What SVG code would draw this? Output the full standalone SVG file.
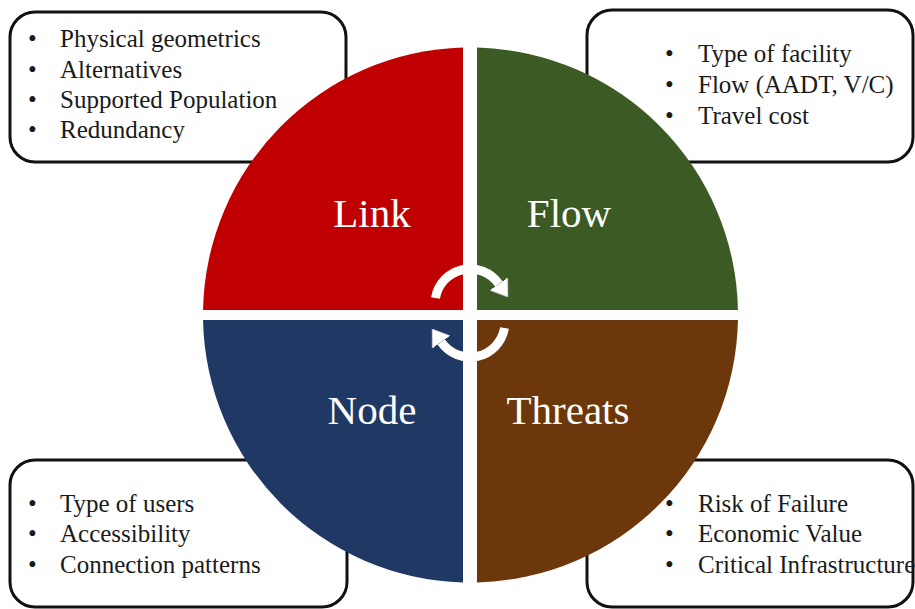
<svg xmlns="http://www.w3.org/2000/svg" width="915" height="609" viewBox="0 0 915 609">
  <style>
    .box { fill: #ffffff; stroke: #111111; stroke-width: 3; }
    .item { font-size: 25px; fill: #1a1a1a; }
    .label { font-size: 41px; fill: #ffffff; text-anchor: middle; }
    .cycle { fill: none; stroke: #ffffff; stroke-width: 9; }
  </style>
  <defs>
    <marker id="head" markerUnits="userSpaceOnUse" markerWidth="16" markerHeight="22" viewBox="0 -11 16 22" refX="0" refY="0" orient="auto">
      <path d="M0,-11 L16,0 L0,11 Z" fill="#ffffff" stroke="#c8c8c8" stroke-width="0.6"/>
    </marker>
  </defs>
  <rect width="915" height="609" fill="#ffffff"/>

  <g font-family="Liberation Serif, serif">
  <g id="box-link">
    <rect class="box" x="10" y="12" width="336" height="150" rx="25"/>
    <text class="item" x="28" y="47">•</text><text class="item" x="60" y="47">Physical geometrics</text>
    <text class="item" x="28" y="78">•</text><text class="item" x="60" y="78">Alternatives</text>
    <text class="item" x="28" y="108">•</text><text class="item" x="60" y="108">Supported Population</text>
    <text class="item" x="28" y="138">•</text><text class="item" x="60" y="138">Redundancy</text>
  </g>
  <g id="box-flow">
    <rect class="box" x="587" y="10" width="326" height="152" rx="25"/>
    <text class="item" x="665" y="62">•</text><text class="item" x="698" y="62">Type of facility</text>
    <text class="item" x="665" y="93">•</text><text class="item" x="698" y="93">Flow (AADT, V/C)</text>
    <text class="item" x="665" y="124">•</text><text class="item" x="698" y="124">Travel cost</text>
  </g>
  <g id="box-node">
    <rect class="box" x="10" y="460" width="337" height="147" rx="25"/>
    <text class="item" x="28" y="512">•</text><text class="item" x="60" y="512">Type of users</text>
    <text class="item" x="28" y="542">•</text><text class="item" x="60" y="542">Accessibility</text>
    <text class="item" x="28" y="573">•</text><text class="item" x="60" y="573">Connection patterns</text>
  </g>
  <g id="box-threats">
    <rect class="box" x="587" y="460" width="326" height="147" rx="25"/>
    <text class="item" x="665" y="512">•</text><text class="item" x="698" y="512">Risk of Failure</text>
    <text class="item" x="665" y="542">•</text><text class="item" x="698" y="542">Economic Value</text>
    <text class="item" x="665" y="573">•</text><text class="item" x="698" y="573">Critical Infrastructure</text>
  </g>

  <g id="node-link">
    <path d="M463,310 L463,47.6 A267.5,267.5 0 0 0 203.05,310 Z" fill="#c00000"/>
    <text class="label" x="372" y="227">Link</text>
  </g>
  <g id="node-flow">
    <path d="M477,310 L477,47.6 A267.5,267.5 0 0 1 737.95,310 Z" fill="#3b5a24"/>
    <text class="label" x="569" y="227">Flow</text>
  </g>
  <g id="node-node">
    <path d="M463,320 L203.05,320 A267.5,267.5 0 0 0 463,582.4 Z" fill="#203864"/>
    <text class="label" x="372" y="424">Node</text>
  </g>
  <g id="node-threats">
    <path d="M477,320 L737.95,320 A267.5,267.5 0 0 1 477,582.4 Z" fill="#6d370c"/>
    <text class="label" x="568" y="424">Threats</text>
  </g>
  </g>

  <g id="connectors">
    <path class="cycle" d="M435.5,297.9 A35,35 0 0 1 498.7,283.9" marker-end="url(#head)"/>
    <path class="cycle" d="M504.5,328.1 A35,35 0 0 1 441.3,342.1" marker-end="url(#head)"/>
  </g>
</svg>
